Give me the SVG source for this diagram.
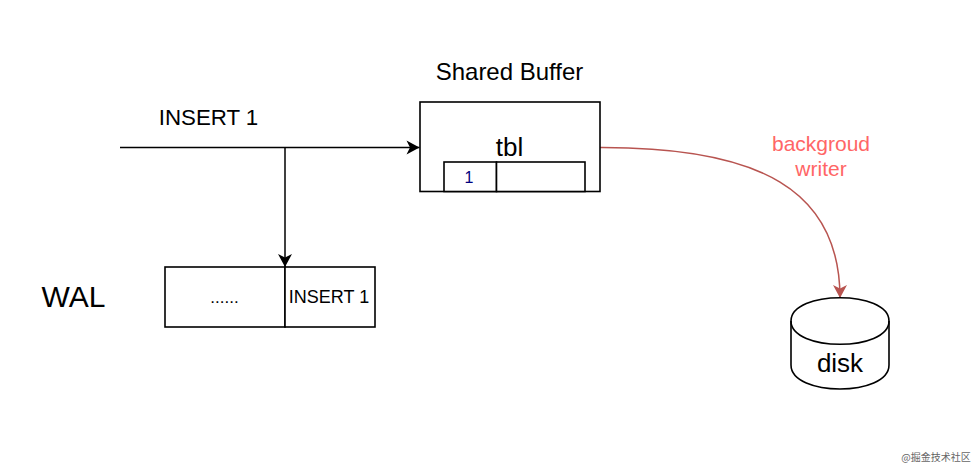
<svg xmlns="http://www.w3.org/2000/svg" width="980" height="471" viewBox="0 0 980 471">
<style>
text{font-family:"Liberation Sans",Arial,sans-serif;fill:#000;text-anchor:middle}
.box{fill:#fff;stroke:#000;stroke-width:1.600}
.edge{fill:none;stroke:#000;stroke-width:1.500}
</style>
<defs>
<marker id="ah" markerUnits="userSpaceOnUse" markerWidth="16" markerHeight="16" refX="14" refY="8" orient="auto"><path d="M1 1L14 8L1 15L4.500 8Z" fill="#000"/></marker>
<marker id="ar" markerUnits="userSpaceOnUse" markerWidth="16" markerHeight="16" refX="14" refY="8" orient="auto"><path d="M1 1L14 8L1 15L4.500 8Z" fill="#b85450"/></marker>
</defs>
<rect width="980" height="471" fill="#fff"/>
<g id="connectors">
<path class="edge" d="M120 147.500H419.500" marker-end="url(#ah)"/>
<path class="edge" d="M285 147.500V267" marker-end="url(#ah)"/>
<path d="M600 147.500C760 147 840 190 840 298" fill="none" stroke="#b85450" stroke-width="1.500" marker-end="url(#ar)"/>
</g>
<g id="insert-label"><text x="208.500" y="124.500" font-size="22.300">INSERT 1</text></g>
<g id="shared-buffer-label"><text x="509.500" y="80" font-size="24">Shared Buffer</text></g>
<g id="shared-buffer">
<rect class="box" x="420" y="102" width="180" height="89.500"/>
<text x="509.500" y="155.500" font-size="26">tbl</text>
</g>
<g id="tbl-cell-1">
<rect class="box" x="444" y="162" width="52.500" height="29.500"/>
<text x="469" y="183" font-size="16" style="fill:#000080">1</text>
</g>
<g id="tbl-cell-2"><rect class="box" x="496.500" y="162" width="88.500" height="29.500"/></g>
<g id="writer-label">
<text x="821" y="151" font-size="21" style="fill:#ff6666">backgroud</text>
<text x="821" y="176" font-size="21" style="fill:#ff6666">writer</text>
</g>
<g id="wal-label"><text x="73.500" y="307" font-size="30">WAL</text></g>
<g id="wal-cell-1">
<rect class="box" x="165" y="267" width="120" height="60"/>
<text x="224.500" y="303" font-size="17">......</text>
</g>
<g id="wal-cell-2">
<rect class="box" x="285" y="267" width="90" height="60"/>
<text x="329" y="302.500" font-size="18">INSERT 1</text>
</g>
<g id="disk">
<path d="M791 321C791 290 889 290 889 321V365C889 397 791 397 791 365Z" fill="#fff" stroke="#000" stroke-width="1.600"/>
<path d="M791 321C791 352 889 352 889 321" fill="none" stroke="#000" stroke-width="1.600"/>
<text x="840" y="372" font-size="26">disk</text>
</g>
<g id="watermark"><text x="936" y="461" font-size="10" style="fill:#666;font-family:'Noto Sans CJK SC',sans-serif">@掘金技术社区</text></g>
</svg>
